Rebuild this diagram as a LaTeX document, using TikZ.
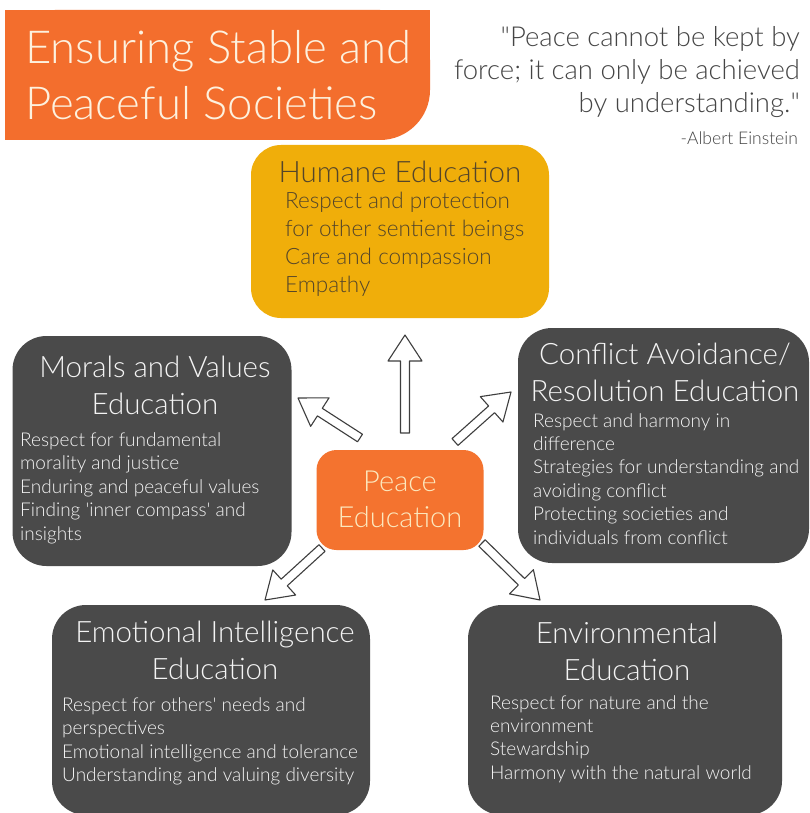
\documentclass[tikz,border=0pt]{standalone}
\usepackage{fontspec}
\IfFontExistsTF{Lato Light}{\setmainfont{Lato Light}\newfontfamily\nomap{Lato Light}}{\setmainfont{Lato}\newfontfamily\nomap{Lato}}
\usetikzlibrary{calc}
\definecolor{orangeT}{HTML}{F36E2D}
\definecolor{orangeP}{HTML}{F4732F}
\definecolor{yellowH}{HTML}{F0AE0A}
\definecolor{darkbox}{HTML}{4A4A4A}
\definecolor{creamT}{HTML}{FDF1DE}
\definecolor{creamP}{HTML}{FCE8BE}
\definecolor{brownH}{HTML}{54452A}
\definecolor{quoteC}{HTML}{454545}
\definecolor{lightT}{HTML}{F4F4F4}
\definecolor{arrowC}{HTML}{3E3E3E}
\newcommand{\sq}{{\nomap '}}
\newcommand{\dq}{{\nomap "}}
\newcommand{\hollowarrow}[3]{%
  \coordinate (#1hb) at ($(#3)!26pt!(#2)$);
  \draw[arrowsty] ($(#2)!4.5pt!90:(#3)$) -- ($(#1hb)!4.5pt!90:(#3)$) -- ($(#1hb)!17pt!90:(#3)$) -- (#3)
    -- ($(#1hb)!17pt!-90:(#3)$) -- ($(#1hb)!4.5pt!-90:(#3)$) -- ($(#2)!4.5pt!-90:(#3)$) -- cycle;}
\begin{document}
\begin{tikzpicture}[x=1pt,y=-1pt,
  darkpanel/.style={fill=darkbox, rounded corners=34pt, inner sep=0pt},
  boxtitle/.style={align=center, inner sep=0pt, font=\fontsize{29.5}{37}\selectfont},
  itemsty/.style={align=left, inner sep=0pt, anchor=north west, text=lightT, font=\fontsize{19}{23.4}\selectfont},
  arrowsty/.style={draw=arrowC, fill=white, line width=1.1pt, line join=round}]
\useasboundingbox (0,0) rectangle (809,813);
\fill[white] (0,0) rectangle (809,813);

% title block
\fill[orangeT, rounded corners=50pt] (5,10) rectangle (430,140);
\fill[orangeT] (5,10) rectangle (430,70);
\fill[orangeT] (5,10) rectangle (300,140);
\node[anchor=west, align=left, inner sep=0pt, text=creamT, font=\fontsize{45.5}{56}\selectfont] (title) at (25,75) {Ensuring Stable and\\Peaceful Societies};

% quote
\node[anchor=east, align=right, inner sep=0pt, text=quoteC, font=\fontsize{27.5}{33}\selectfont] (quote) at (800,72) {\dq Peace cannot be kept by\\force; it can only be achieved\\by understanding.\dq};
\node[anchor=east, inner sep=0pt, text=quoteC, font=\fontsize{17.5}{20}\selectfont] (author) at (798,138) {-Albert Einstein};

% humane
\node[fill=yellowH, rounded corners=30pt, minimum width=298pt, minimum height=173pt, inner sep=0pt] (humane) at (400,231.5) {};
\node[boxtitle, text=brownH] (humaneT) at (400,172) {Humane Education};
\node[align=left, inner sep=0pt, anchor=north west, text=brownH, font=\fontsize{22.5}{28}\selectfont] (humaneI) at (285,192) {Respect and protection\\for other sentient beings\\Care and compassion\\Empathy};

% morals
\node[darkpanel, minimum width=279pt, minimum height=230pt] (morals) at (152,451) {};
\node[boxtitle, text=lightT] (moralsT) at (155,385) {Morals and Values\\Education};
\node[itemsty] (moralsI) at (20,432.5) {Respect for fundamental\\morality and justice\\Enduring and peaceful values\\Finding \sq inner compass\sq{} and\\insights};

% conflict
\node[darkpanel, minimum width=291pt, minimum height=235pt] (conflict) at (663.5,445.5) {};
\node[boxtitle, text=lightT] (conflictT) at (665,372) {Conflict Avoidance/\\Resolution Education};
\node[itemsty] (conflictI) at (533,413) {Respect and harmony in\\difference\\Strategies for understanding and\\avoiding conflict\\Protecting societies and\\individuals from conflict};

% peace
\node[fill=orangeP, rounded corners=20pt, minimum width=167pt, minimum height=100pt, inner sep=0pt] (peace) at (400,500) {};
\node[align=center, inner sep=0pt, text=creamP, font=\fontsize{29}{36}\selectfont] (peaceT) at (400,499) {Peace\\Education};

% emotional
\node[darkpanel, minimum width=318pt, minimum height=210pt] (emotional) at (211,710) {};
\node[boxtitle, text=lightT] (emotionalT) at (215,650) {Emotional Intelligence\\Education};
\node[itemsty] (emotionalI) at (62,697.5) {Respect for others\sq{} needs and\\perspectives\\Emotional intelligence and tolerance\\Understanding and valuing diversity};

% environmental
\node[darkpanel, minimum width=314pt, minimum height=210pt] (environmental) at (625,710) {};
\node[boxtitle, text=lightT] (environmentalT) at (627,651) {Environmental\\Education};
\node[itemsty] (environmentalI) at (490,695) {Respect for nature and the\\environment\\Stewardship\\Harmony with the natural world};

% arrows
\coordinate (aUpT) at (405,433); \coordinate (aUpH) at (405,335);
\coordinate (aULT) at (360,438); \coordinate (aULH) at (298,398);
\coordinate (aURT) at (455,442); \coordinate (aURH) at (511,392);
\coordinate (aDLT) at (322,548); \coordinate (aDLH) at (265,600);
\coordinate (aDRT) at (482,543); \coordinate (aDRH) at (540,600);
\hollowarrow{up}{aUpT}{aUpH}
\hollowarrow{ul}{aULT}{aULH}
\hollowarrow{ur}{aURT}{aURH}
\hollowarrow{dl}{aDLT}{aDLH}
\hollowarrow{dr}{aDRT}{aDRH}
\end{tikzpicture}
\end{document}
